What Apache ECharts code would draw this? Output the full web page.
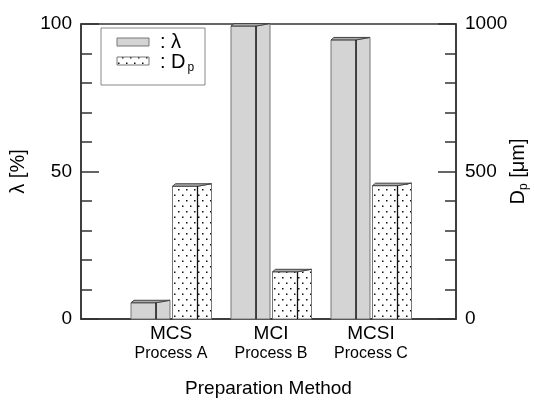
<!DOCTYPE html>
<html lang="en">
  <head>
    <meta charset="UTF-8" />
    <title>Preparation Method</title>
    <script src="https://cdn.jsdelivr.net/npm/echarts@6.0.0/dist/echarts.min.js"></script>
    <style>
      html, body { margin: 0; padding: 0; background: #fff; }
    </style>
  </head>

  <body>
    <div id="main" style="width: 534px; height: 402px"></div>

    <script type="text/javascript">
      // data
      const methods = ["MCS", "MCI", "MCSI"];
      const processes = ["Process A", "Process B", "Process C"];
      const lambdaVals = [5.5, 99.3, 94.6];
      const dpVals = [450, 160, 452];
      const leftTicks = [0, 50, 100];
      const rightTicks = [0, 500, 1000];

      const font = "Liberation Sans, Arial, sans-serif";
      const gray = "#d4d4d4";

      // dotted fill for the Dp bars
      const dotCanvas = document.createElement("canvas");
      dotCanvas.width = 8;
      dotCanvas.height = 11;
      const g = dotCanvas.getContext("2d");
      g.fillStyle = "#fff";
      g.fillRect(0, 0, 8, 11);
      g.fillStyle = "#111";
      g.fillRect(2, 2, 1.5, 1.5);
      g.fillRect(6, 7.5, 1.5, 1.5);
      const dots = { image: dotCanvas, repeat: "repeat" };

      // 3d-looking bar: front face, side face, thin top face
      function barRenderer(fill, offset) {
        return function (params, api) {
          const c = api.coord([api.value(0), api.value(1)]);
          const b = api.coord([api.value(0), 0]);
          const u = api.size([1, 0])[0];
          const x0 = c[0] + offset * u;
          const wf = 0.25 * u;
          const ws = 0.14 * u;
          const d = 2.5;
          const top = c[1];
          const base = b[1];
          return {
            type: "group",
            children: [
              {
                type: "polygon",
                shape: { points: [[x0 + wf, top], [x0 + wf + ws, top - d], [x0 + wf + ws, base], [x0 + wf, base]] },
                style: { fill: fill, stroke: "#777", lineWidth: 1 },
              },
              {
                type: "rect",
                shape: { x: x0, y: top, width: wf, height: base - top },
                style: { fill: fill, stroke: "#777", lineWidth: 1 },
              },
              {
                type: "polygon",
                shape: { points: [[x0, top], [x0 + 3, top - d], [x0 + wf + ws, top - d], [x0 + wf, top]] },
                style: { fill: "#aaa", stroke: "#444", lineWidth: 1 },
              },
              {
                type: "line",
                shape: { x1: x0 + wf, y1: top, x2: x0 + wf, y2: base },
                style: { stroke: "#111", lineWidth: 1.3 },
              },
            ],
          };
        };
      }

      let myChart = echarts.init(document.getElementById("main"));

      const lambdaData = methods.map((m, i) => [i + 1, lambdaVals[i]]);
      const dpData = methods.map((m, i) => [i + 1, dpVals[i]]);

      const yCommon = {
        type: "value",
        splitLine: { show: false },
        axisLine: { show: true, lineStyle: { color: "#333", width: 1.5 } },
        axisTick: { show: true, inside: true, length: 18, lineStyle: { color: "#333", width: 1.5 } },
        minorTick: { show: true, splitNumber: 5, length: 11, lineStyle: { color: "#333", width: 1.5 } },
        axisLabel: { color: "#000", fontSize: 19, fontFamily: font, margin: 9, formatter: (v) => String(v) },
        nameLocation: "middle",
        nameRotate: 90,
        nameMoveOverlap: false,
        nameTextStyle: { color: "#000", fontSize: 20, fontFamily: font },
      };

      let options = {
        animation: false,
        grid: {
          left: 81,
          right: 78,
          top: 24,
          bottom: 83,
          containLabel: false,
          outerBoundsMode: "none",
          show: true,
          borderColor: "#333",
          borderWidth: 1.5,
          backgroundColor: "transparent",
        },
        xAxis: {
          type: "value",
          min: 0.1,
          max: 3.85,
          splitLine: { show: false },
          axisLine: { show: true, lineStyle: { color: "#333", width: 1.5 } },
          axisTick: { show: false },
          axisLabel: {
            customValues: [1, 2, 3],
            margin: 5,
            formatter: (v) => {
              const i = Math.round(v) - 1;
              return "{a|" + methods[i] + "}\n{b|" + processes[i] + "}";
            },
            rich: {
              a: { fontSize: 19, lineHeight: 20, color: "#000", fontFamily: font },
              b: { fontSize: 16, lineHeight: 19, color: "#000", fontFamily: font },
            },
          },
          name: "Preparation Method",
          nameLocation: "middle",
          nameGap: 60,
          nameMoveOverlap: false,
          nameTextStyle: { color: "#000", fontSize: 19, fontFamily: font },
        },
        yAxis: [
          Object.assign({}, yCommon, {
            min: leftTicks[0],
            max: leftTicks[2],
            interval: leftTicks[1],
            position: "left",
            name: "λ [%]",
            nameGap: 53,
          }),
          Object.assign({}, yCommon, {
            min: rightTicks[0],
            max: rightTicks[2],
            interval: rightTicks[1],
            position: "right",
            name: "{d|D}{s|p}{d| [μm]}",
            nameGap: 50,
            nameTextStyle: {
              rich: {
                d: { fontSize: 20, color: "#000", fontFamily: font },
                s: { fontSize: 12, color: "#000", fontFamily: font, verticalAlign: "bottom", padding: [12, 0, 0, 0] },
              },
            },
          }),
        ],
        series: [
          {
            name: "λ",
            type: "custom",
            yAxisIndex: 0,
            renderItem: barRenderer(gray, -0.4),
            data: lambdaData,
          },
          {
            name: "Dp",
            type: "custom",
            yAxisIndex: 1,
            renderItem: barRenderer(dots, 0.015),
            data: dpData,
          },
        ],
        graphic: [
          { type: "rect", shape: { x: 101, y: 28, width: 104, height: 57 }, style: { fill: "#fff", stroke: "#888", lineWidth: 1 } },
          { type: "rect", shape: { x: 117, y: 38, width: 32, height: 8 }, style: { fill: gray, stroke: "#777", lineWidth: 1 } },
          { type: "rect", shape: { x: 117, y: 57, width: 32, height: 8 }, style: { fill: dots, stroke: "#777", lineWidth: 1 } },
          { type: "text", x: 160, y: 42, style: { text: ": λ", fontSize: 20, fontFamily: font, fill: "#000", verticalAlign: "middle" } },
          {
            type: "text",
            x: 160,
            y: 62,
            style: {
              text: "{d|: D}{s|p}",
              verticalAlign: "middle",
              rich: {
                d: { fontSize: 20, fontFamily: font, fill: "#000" },
                s: { fontSize: 12, fontFamily: font, fill: "#000", padding: [12, 0, 0, 2] },
              },
            },
          },
        ],
      };

      myChart.setOption(options);
    </script>
  </body>
</html>
